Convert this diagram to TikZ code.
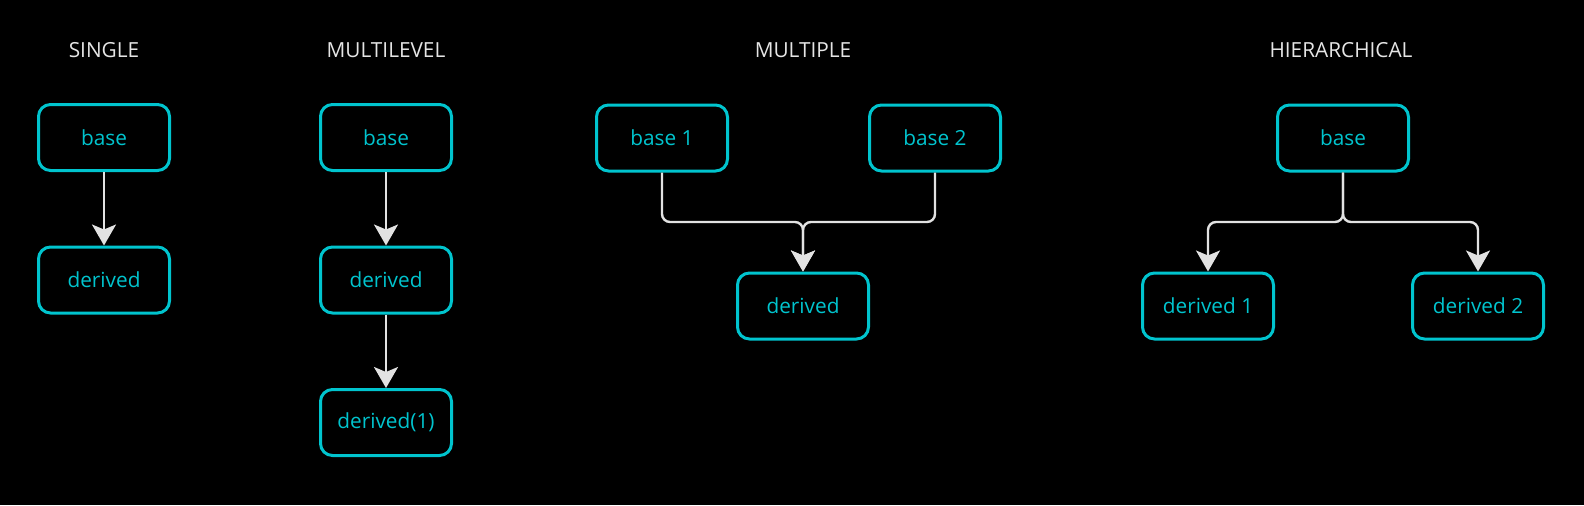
\documentclass[tikz,border=0pt]{standalone}
\usepackage{fontspec}
\setmainfont{Open Sans}
\usepackage{xcolor}
\usepackage{tikz}
\usetikzlibrary{arrows.meta}
\definecolor{boxcyan}{RGB}{0,196,206}
\definecolor{linegray}{RGB}{226,226,226}

\begin{document}
\begin{tikzpicture}[>={Stealth[length=10.5pt,width=12pt,inset=2.5pt]},x=0.5pt,y=-0.5pt,
	box/.style={rectangle,rounded corners=6pt,draw=boxcyan,line width=1.5pt,text=boxcyan,
		minimum width=65.5pt,minimum height=33pt,inner sep=0pt,font={\fontsize{10.4}{12}\selectfont}},
	title/.style={text=white!90!black,font={\fontsize{10.4}{12}\selectfont}},
	link/.style={->,draw=linegray,line width=1.2pt,rounded corners=4pt}] % 继承方式图示
	\fill[black] (0,0) rectangle (1584,505);
	
	\foreach \i/\x/\name in {1/104/SINGLE,2/386/MULTILEVEL,3/803/MULTIPLE,4/1341/HIERARCHICAL}{
		\node[title] (t\i) at (\x,50){\name};
	}
	
	% single
	\node[box] (sb) at (104,137.5){base};
	\node[box] (sd) at (104,280){derived};
	\draw[link] (sb)--(sd);
	
	% multilevel
	\foreach \i/\y/\name in {1/137.5/base,2/280/derived,3/422.5/derived(1)}{
		\node[box] (m\i) at (386,\y){\name};
	}
	\draw[link] (m1)--(m2);
	\draw[link] (m2)--(m3);
	
	% multiple
	\node[box] (p1) at (662,138){base 1};
	\node[box] (p2) at (935,138){base 2};
	\node[box] (pd) at (803,306){derived};
	\coordinate (pm) at (803,222);
	\draw[link] (p1.south) |- (pm) -- (pd.north);
	\draw[link] (p2.south) |- (pm) -- (pd.north);
	
	% hierarchical
	\node[box] (hb) at (1343,138){base};
	\node[box] (h1) at (1208,306){derived 1};
	\node[box] (h2) at (1478,306){derived 2};
	\coordinate (hm) at (1343,222);
	\draw[link] (hb.south) -- (hm) -| (h1.north);
	\draw[link] (hb.south) -- (hm) -| (h2.north);
\end{tikzpicture}
\end{document}
